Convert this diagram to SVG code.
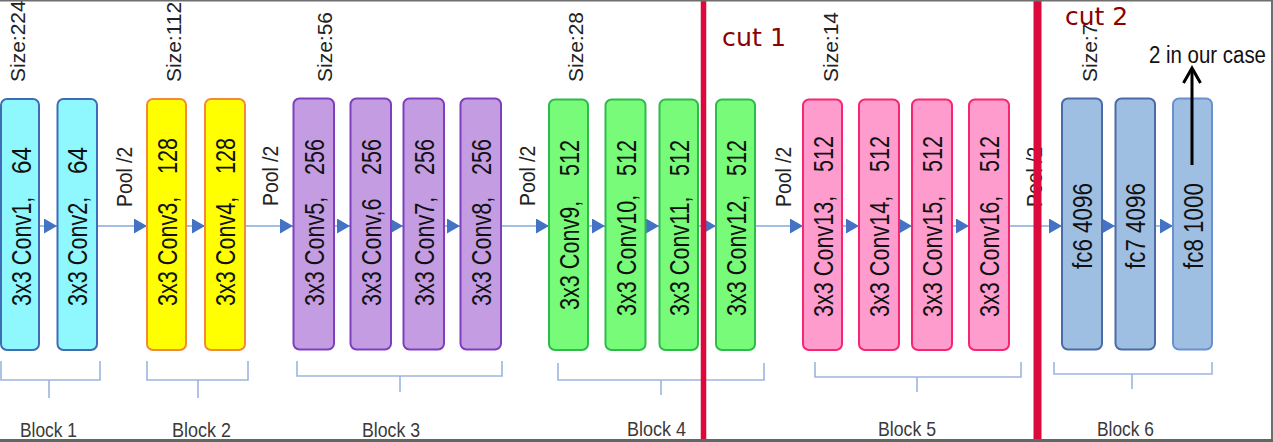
<svg xmlns="http://www.w3.org/2000/svg" width="1273" height="442" viewBox="0 0 1273 442">
<style>
.lbl{font-family:"Liberation Sans",Arial,sans-serif;font-size:27px;fill:#111}
.size{font-family:"Liberation Sans",Arial,sans-serif;font-size:21px;fill:#222}
.pool{font-family:"Liberation Sans",Arial,sans-serif;font-size:22px;fill:#222}
.blk{font-family:"Liberation Sans",Arial,sans-serif;font-size:21px;fill:#3a3a3a}
.cut{font-family:"DejaVu Sans",sans-serif;font-size:25px;fill:#8b0000}
.note{font-family:"Liberation Sans",Arial,sans-serif;font-size:23px;fill:#111}
.cyan{fill:#8ff8fe;stroke:#3f6db5;stroke-width:2}
.yel{fill:#ffff00;stroke:#f28a3c;stroke-width:2}
.pur{fill:#c49ce2;stroke:#7d3fbd;stroke-width:2}
.grn{fill:#77fb78;stroke:#2dbb4c;stroke-width:2}
.pnk{fill:#ff9cce;stroke:#f7266e;stroke-width:2}
.blu{fill:#9fbfe2;stroke:#4a6aa8;stroke-width:2}
.conn{stroke:#a4bfe6;stroke-width:2;fill:none;marker-end:url(#ah)}
.brk{stroke:#9cb5e0;stroke-width:1.6;fill:none}
.cutl{stroke:#dc0a3c}
</style>
<defs>
<marker id="ah" markerUnits="userSpaceOnUse" markerWidth="14" markerHeight="15" refX="13" refY="7.5" orient="auto">
<path d="M0,0 L13,7.5 L0,15 z" fill="#4472c4"/>
</marker>
</defs>
<rect x="0" y="0" width="1273" height="442" fill="#ffffff"/>

<g id="size-labels">
<text class="size" transform="translate(25,82) rotate(-90)">Size:224</text>
<text class="size" transform="translate(181,82) rotate(-90)">Size:112</text>
<text class="size" transform="translate(332,82) rotate(-90)">Size:56</text>
<text class="size" transform="translate(583,82) rotate(-90)">Size:28</text>
<text class="size" transform="translate(838,82) rotate(-90)">Size:14</text>
<text class="size" transform="translate(1097,82) rotate(-90)">Size:7</text>
</g>

<g id="connectors">
<line class="conn" x1="39" y1="226" x2="57" y2="226"/>
<line class="conn" x1="97" y1="226" x2="147" y2="226"/>
<line class="conn" x1="186" y1="226" x2="205" y2="226"/>
<line class="conn" x1="245" y1="226" x2="293" y2="226"/>
<line class="conn" x1="334" y1="226" x2="350" y2="226"/>
<line class="conn" x1="391" y1="226" x2="403" y2="226"/>
<line class="conn" x1="444" y1="226" x2="460" y2="226"/>
<line class="conn" x1="501" y1="226" x2="549" y2="226"/>
<line class="conn" x1="588" y1="226" x2="605" y2="226"/>
<line class="conn" x1="646" y1="226" x2="659" y2="226"/>
<line class="conn" x1="698" y1="226" x2="716" y2="226"/>
<line class="conn" x1="755" y1="226" x2="803" y2="226"/>
<line class="conn" x1="842" y1="226" x2="859" y2="226"/>
<line class="conn" x1="899" y1="226" x2="912" y2="226"/>
<line class="conn" x1="952" y1="226" x2="969" y2="226"/>
<line class="conn" x1="1009" y1="226" x2="1062" y2="226"/>
<line class="conn" x1="1102" y1="226" x2="1115" y2="226"/>
<line class="conn" x1="1155" y1="226" x2="1173" y2="226"/>
</g>

<g id="pool-labels">
<text class="pool" transform="translate(132,207) rotate(-90) scale(0.88,1)">Pool /2</text>
<text class="pool" transform="translate(278,206) rotate(-90) scale(0.88,1)">Pool /2</text>
<text class="pool" transform="translate(535,206) rotate(-90) scale(0.88,1)">Pool /2</text>
<text class="pool" transform="translate(791,207) rotate(-90) scale(0.88,1)">Pool /2</text>
<text class="pool" transform="translate(1042,207) rotate(-90) scale(0.88,1)">Pool /2</text>
</g>

<g id="conv1"><rect class="cyan" x="1" y="99" width="38" height="251" rx="6"/>
<text class="lbl" transform="translate(31,306) rotate(-90) scale(0.8,1)">3x3 Conv1,</text>
<text class="lbl" transform="translate(31,174) rotate(-90) scale(0.9,1)">64</text></g>
<g id="conv2"><rect class="cyan" x="57.5" y="99" width="39.5" height="251" rx="6"/>
<text class="lbl" transform="translate(87,306) rotate(-90) scale(0.8,1)">3x3 Conv2,</text>
<text class="lbl" transform="translate(87,174) rotate(-90) scale(0.9,1)">64</text></g>
<g id="conv3"><rect class="yel" x="147" y="99" width="39" height="251" rx="6"/>
<text class="lbl" transform="translate(176.5,306) rotate(-90) scale(0.8,1)">3x3 Conv3,</text>
<text class="lbl" transform="translate(176.5,174) rotate(-90) scale(0.8,1)">128</text></g>
<g id="conv4"><rect class="yel" x="205" y="99" width="40" height="251" rx="6"/>
<text class="lbl" transform="translate(235,306) rotate(-90) scale(0.8,1)">3x3 Conv4,</text>
<text class="lbl" transform="translate(235,174) rotate(-90) scale(0.8,1)">128</text></g>
<g id="conv5"><rect class="pur" x="293.5" y="98.5" width="40.5" height="251" rx="6"/>
<text class="lbl" transform="translate(323.5,306) rotate(-90) scale(0.8,1)">3x3 Conv5,</text>
<text class="lbl" transform="translate(323.5,175) rotate(-90) scale(0.8,1)">256</text></g>
<g id="conv6"><rect class="pur" x="350.5" y="98.5" width="40.5" height="251" rx="6"/>
<text class="lbl" transform="translate(380.5,306) rotate(-90) scale(0.8,1)">3x3 Conv,6</text>
<text class="lbl" transform="translate(380.5,175) rotate(-90) scale(0.8,1)">256</text></g>
<g id="conv7"><rect class="pur" x="403.5" y="98.5" width="40.5" height="251" rx="6"/>
<text class="lbl" transform="translate(433.5,306) rotate(-90) scale(0.8,1)">3x3 Conv7,</text>
<text class="lbl" transform="translate(433.5,175) rotate(-90) scale(0.8,1)">256</text></g>
<g id="conv8"><rect class="pur" x="460.5" y="98.5" width="40.5" height="251" rx="6"/>
<text class="lbl" transform="translate(490.5,306) rotate(-90) scale(0.8,1)">3x3 Conv8,</text>
<text class="lbl" transform="translate(490.5,175) rotate(-90) scale(0.8,1)">256</text></g>
<g id="conv9"><rect class="grn" x="549" y="99.5" width="39" height="250.5" rx="6"/>
<text class="lbl" transform="translate(578.5,310) rotate(-90) scale(0.8,1)">3x3 Conv9,</text>
<text class="lbl" transform="translate(578.5,176) rotate(-90) scale(0.8,1)">512</text></g>
<g id="conv10"><rect class="grn" x="605.5" y="99.5" width="40" height="250.5" rx="6"/>
<text class="lbl" transform="translate(635.5,316) rotate(-90) scale(0.8,1)">3x3 Conv10,</text>
<text class="lbl" transform="translate(635.5,176) rotate(-90) scale(0.8,1)">512</text></g>
<g id="conv11"><rect class="grn" x="659.5" y="99.5" width="38.5" height="250.5" rx="6"/>
<text class="lbl" transform="translate(688.5,316) rotate(-90) scale(0.8,1)">3x3 Conv11,</text>
<text class="lbl" transform="translate(688.5,176) rotate(-90) scale(0.8,1)">512</text></g>
<g id="conv12"><rect class="grn" x="716" y="99.5" width="39" height="250.5" rx="6"/>
<text class="lbl" transform="translate(745.5,316) rotate(-90) scale(0.8,1)">3x3 Conv12,</text>
<text class="lbl" transform="translate(745.5,176) rotate(-90) scale(0.8,1)">512</text></g>
<g id="conv13"><rect class="pnk" x="803" y="99.5" width="39" height="250.5" rx="6"/>
<text class="lbl" transform="translate(832.5,317) rotate(-90) scale(0.8,1)">3x3 Conv13,</text>
<text class="lbl" transform="translate(832.5,172) rotate(-90) scale(0.8,1)">512</text></g>
<g id="conv14"><rect class="pnk" x="859" y="99.5" width="40" height="250.5" rx="6"/>
<text class="lbl" transform="translate(889,317) rotate(-90) scale(0.8,1)">3x3 Conv14,</text>
<text class="lbl" transform="translate(889,172) rotate(-90) scale(0.8,1)">512</text></g>
<g id="conv15"><rect class="pnk" x="912" y="99.5" width="40" height="250.5" rx="6"/>
<text class="lbl" transform="translate(942,317) rotate(-90) scale(0.8,1)">3x3 Conv15,</text>
<text class="lbl" transform="translate(942,172) rotate(-90) scale(0.8,1)">512</text></g>
<g id="conv16"><rect class="pnk" x="969" y="99.5" width="40" height="250.5" rx="6"/>
<text class="lbl" transform="translate(999,317) rotate(-90) scale(0.8,1)">3x3 Conv16,</text>
<text class="lbl" transform="translate(999,172) rotate(-90) scale(0.8,1)">512</text></g>
<g id="fc6"><rect class="blu" x="1062" y="98.5" width="40" height="251" rx="6"/>
<text class="lbl" transform="translate(1092,269) rotate(-90) scale(0.83,1)">fc6 4096</text></g>
<g id="fc7"><rect class="blu" x="1115.5" y="98.5" width="39.5" height="251" rx="6"/>
<text class="lbl" transform="translate(1145,269) rotate(-90) scale(0.83,1)">fc7 4096</text></g>
<g id="fc8"><rect class="blu" x="1173" y="98.5" width="39" height="251" rx="6" style="stroke:#6b90d2"/>
<text class="lbl" transform="translate(1202.5,269) rotate(-90) scale(0.83,1)">fc8 1000</text></g>

<g id="output-note">
<line x1="1192" y1="165" x2="1192" y2="69" stroke="#000" stroke-width="3"/>
<polyline points="1183.5,83 1192,68 1200.5,83" fill="none" stroke="#000" stroke-width="3"/>
<text class="note" x="1149" y="63" textLength="117" lengthAdjust="spacingAndGlyphs">2 in our case</text>
</g>

<g id="brackets">
<path class="brk" d="M1,361 V380 H100 V361 M49,380 V398"/>
<path class="brk" d="M147,361 V380 H248 V361 M198,380 V398"/>
<path class="brk" d="M297,361 V376 H502 V361 M400,376 V392"/>
<path class="brk" d="M558,363 V380 H764 V363 M661,380 V395"/>
<path class="brk" d="M815,362 V377 H1021 V362 M917,377 V392"/>
<path class="brk" d="M1054,362 V374 H1212 V362 M1132,374 V389"/>
</g>

<g id="block-labels">
<text class="blk" x="48.5" y="437" text-anchor="middle" textLength="57" lengthAdjust="spacingAndGlyphs">Block 1</text>
<text class="blk" x="201.5" y="437" text-anchor="middle" textLength="59" lengthAdjust="spacingAndGlyphs">Block 2</text>
<text class="blk" x="391" y="437" text-anchor="middle" textLength="58" lengthAdjust="spacingAndGlyphs">Block 3</text>
<text class="blk" x="656.5" y="436" text-anchor="middle" textLength="59" lengthAdjust="spacingAndGlyphs">Block 4</text>
<text class="blk" x="907" y="436" text-anchor="middle" textLength="58" lengthAdjust="spacingAndGlyphs">Block 5</text>
<text class="blk" x="1125.5" y="436" text-anchor="middle" textLength="57" lengthAdjust="spacingAndGlyphs">Block 6</text>
</g>

<g id="cuts">
<line class="cutl" x1="703.5" y1="0" x2="703.5" y2="440" stroke-width="5.5"/>
<line class="cutl" x1="1037.5" y1="0" x2="1037.5" y2="440" stroke-width="8"/>
<text class="cut" x="722" y="46" textLength="64" lengthAdjust="spacingAndGlyphs">cut 1</text>
<text class="cut" x="1065" y="25" textLength="63" lengthAdjust="spacingAndGlyphs">cut 2</text>
</g>

<g id="frame">
<rect x="0" y="0" width="1273" height="1.5" fill="#6e6e6e"/>
<rect x="1271" y="0" width="2" height="442" fill="#6e6e6e"/>
<rect x="0" y="439" width="1273" height="3" fill="#5f6763"/>
</g>
</svg>
